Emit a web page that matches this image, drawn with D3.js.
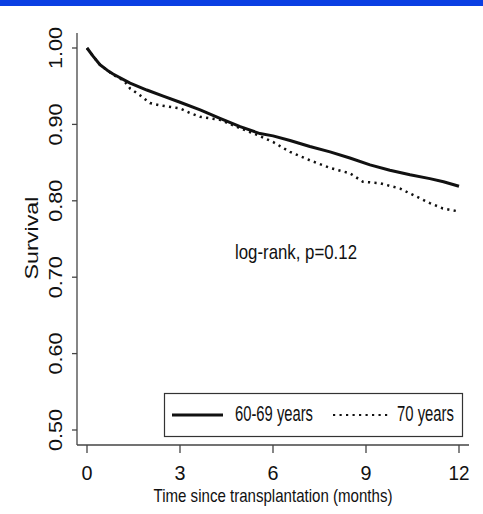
<!DOCTYPE html>
<html>
<head>
<meta charset="utf-8">
<script src="https://cdn.jsdelivr.net/npm/d3@7"></script>
<style>
  html, body { margin: 0; padding: 0; background: #fff; }
  svg { display: block; }
  svg text { font-family: "Liberation Sans", Arimo, "DejaVu Sans", sans-serif; fill: #111; }
</style>
</head>
<body>
<svg id="chart" width="483" height="514"></svg>
<script>
// Data
const months = [0, 0.2, 0.42, 0.65, 0.84, 1.39, 1.93, 2.46, 3.0, 3.65, 4.29, 4.94, 5.58, 6.0, 6.55, 7.19, 7.84, 8.48, 9.13, 9.77, 10.42, 11.06, 11.5, 12.0];
const surv6069 = [1.0, 0.989, 0.978, 0.971, 0.966, 0.954, 0.945, 0.937, 0.929, 0.919, 0.908, 0.897, 0.888, 0.885, 0.879, 0.871, 0.864, 0.856, 0.847, 0.840, 0.834, 0.829, 0.825, 0.819];

const months70 = [0, 0.2, 0.42, 0.65, 0.84, 1.2, 1.39, 1.71, 2.03, 2.35, 3.0, 3.32, 3.65, 3.97, 4.29, 4.94, 5.5, 6.0, 6.55, 7.19, 7.84, 8.48, 8.9, 9.45, 10.1, 10.5, 11.06, 11.48, 12.0];
const surv70 = [1.0, 0.989, 0.978, 0.971, 0.965, 0.957, 0.947, 0.938, 0.928, 0.925, 0.921, 0.915, 0.910, 0.908, 0.906, 0.895, 0.886, 0.877, 0.864, 0.853, 0.843, 0.836, 0.825, 0.823, 0.816, 0.808, 0.797, 0.790, 0.786];

const xTicks = [0, 3, 6, 9, 12];
const yTicks = [0.5, 0.6, 0.7, 0.8, 0.9, 1.0];
const yTickLabels = ["0.50", "0.60", "0.70", "0.80", "0.90", "1.00"];
const seriesNames = ["60-69 years", "70 years"];
const xTitle = "Time since transplantation (months)";
const yTitle = "Survival";
const annotation = "log-rank, p=0.12";

const FONT = "'Liberation Sans', Arimo, 'DejaVu Sans', sans-serif";
const svg = d3.select("#chart");

// top blue band
svg.append("rect").attr("x", 0).attr("y", 0).attr("width", 483).attr("height", 6).attr("fill", "#0b3fe3");

const x = d3.scaleLinear().domain([0, 12]).range([87, 459]);
const y = d3.scaleLinear().domain([0.5, 1.0]).range([430, 48]);

const axisColor = "#444";

// y axis line
svg.append("line").attr("x1", 77).attr("x2", 77).attr("y1", 33).attr("y2", 445)
  .attr("stroke", axisColor).attr("stroke-width", 1.3);
// x axis line
svg.append("line").attr("x1", 77).attr("x2", 469).attr("y1", 445).attr("y2", 445)
  .attr("stroke", axisColor).attr("stroke-width", 1.3);

// y ticks
yTicks.forEach((v, i) => {
  svg.append("line").attr("x1", 72).attr("x2", 77).attr("y1", y(v)).attr("y2", y(v))
    .attr("stroke", axisColor).attr("stroke-width", 1.3);
  svg.append("text")
    .attr("transform", `translate(62,${y(v)}) rotate(-90)`)
    .attr("text-anchor", "middle")
    .attr("font-family", FONT)
    .attr("font-size", 19)
    .attr("textLength", 42).attr("lengthAdjust", "spacingAndGlyphs")
    .text(yTickLabels[i]);
});

// x ticks
xTicks.forEach(t => {
  svg.append("line").attr("x1", x(t)).attr("x2", x(t)).attr("y1", 445).attr("y2", 453)
    .attr("stroke", axisColor).attr("stroke-width", 1.3);
  const s = String(t);
  svg.append("text")
    .attr("x", x(t)).attr("y", 480)
    .attr("text-anchor", "middle")
    .attr("font-family", FONT)
    .attr("font-size", 21)
    .attr("textLength", s.length === 1 ? 11 : 21).attr("lengthAdjust", "spacingAndGlyphs")
    .text(s);
});

// axis titles
svg.append("text")
  .attr("x", 273).attr("y", 502)
  .attr("text-anchor", "middle").attr("font-size", 19)
  .attr("font-family", FONT)
  .attr("textLength", 239).attr("lengthAdjust", "spacingAndGlyphs")
  .text(xTitle);

svg.append("text")
  .attr("transform", "translate(38,238) rotate(-90)")
  .attr("text-anchor", "middle").attr("font-size", 18)
  .attr("font-family", FONT)
  .attr("textLength", 83).attr("lengthAdjust", "spacingAndGlyphs")
  .text(yTitle);

// annotation
svg.append("text")
  .attr("x", 235).attr("y", 259)
  .attr("font-size", 21)
  .attr("font-family", FONT)
  .attr("textLength", 122).attr("lengthAdjust", "spacingAndGlyphs")
  .text(annotation);

// curves
const line = d3.line().x(d => x(d[0])).y(d => y(d[1])).curve(d3.curveLinear);
const d6069 = months.map((m, i) => [m, surv6069[i]]);
const d70 = months70.map((m, i) => [m, surv70[i]]);

svg.append("path").datum(d70).attr("d", line)
  .attr("fill", "none").attr("stroke", "#111").attr("stroke-width", 2.5)
  .attr("stroke-dasharray", "2.2,4.3");
svg.append("path").datum(d6069).attr("d", line)
  .attr("fill", "none").attr("stroke", "#111").attr("stroke-width", 3)
  .attr("stroke-linejoin", "round");

// legend
svg.append("rect").attr("x", 164.5).attr("y", 393.5).attr("width", 298).attr("height", 43)
  .attr("fill", "#fff").attr("stroke", "#333").attr("stroke-width", 1.2);
svg.append("line").attr("x1", 172).attr("x2", 223).attr("y1", 415).attr("y2", 415)
  .attr("stroke", "#111").attr("stroke-width", 3);
svg.append("text").attr("x", 235).attr("y", 421).attr("font-size", 22)
  .attr("font-family", FONT)
  .attr("textLength", 78).attr("lengthAdjust", "spacingAndGlyphs").text(seriesNames[0]);
svg.append("line").attr("x1", 333).attr("x2", 388).attr("y1", 415).attr("y2", 415)
  .attr("stroke", "#111").attr("stroke-width", 2.2).attr("stroke-dasharray", "2.2,4.3");
svg.append("text").attr("x", 397).attr("y", 421).attr("font-size", 22)
  .attr("font-family", FONT)
  .attr("textLength", 57).attr("lengthAdjust", "spacingAndGlyphs").text(seriesNames[1]);
</script>
</body>
</html>
